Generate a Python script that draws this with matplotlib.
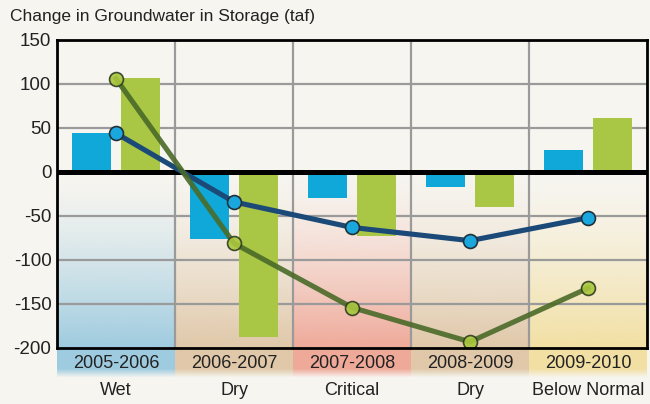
import numpy as np
import matplotlib.pyplot as plt
from matplotlib.colors import to_rgb

# water years and their classification
years = ['2005-2006', '2006-2007', '2007-2008', '2008-2009', '2009-2010']
year_types = ['Wet', 'Dry', 'Critical', 'Dry', 'Below Normal']

# change in storage per year (taf)
blue_bars = [44, -76, -30, -17, 25]
green_bars = [107, -187, -73, -40, 61]

# cumulative change in storage (taf)
blue_line = [44, -34, -63, -78, -52]
green_line = [106, -81, -154, -193, -132]

type_colors = {
    'Wet': '#8ec4dd',
    'Dry': '#dcc09c',
    'Critical': '#ee9c8a',
    'Below Normal': '#f1dc95',
}

BG = '#f7f5f0'

plt.rcParams['font.family'] = ['Liberation Sans', 'DejaVu Sans']

fig = plt.figure(figsize=(6.5, 4.04), dpi=100, facecolor=BG)
ax = fig.add_axes([57 / 650, 1 - 348 / 404, 590 / 650, 308 / 404])
ax.set_facecolor(BG)

x = np.arange(len(years))
ymin, ymax = -200, 150

# shaded bands behind each year, fading towards zero and running into the label strip
band_low = -234
n = 256
ys = np.linspace(0, band_low, n)
alpha = np.clip((0 - ys) / 200, 0, 1) ** 1.4 * 0.85
fade = ys < -224
alpha[fade] *= np.clip((ys[fade] - band_low) / 10, 0, 1)
for i, t in enumerate(year_types):
    rgba = np.zeros((n, 1, 4))
    rgba[:, 0, :3] = to_rgb(type_colors[t])
    rgba[:, 0, 3] = alpha
    ax.imshow(rgba, extent=(i - 0.5, i + 0.5, band_low, 0), origin='upper',
              aspect='auto', zorder=0, clip_on=False, interpolation='bilinear')

# grid
for gx in np.arange(0.5, len(years) - 0.5):
    ax.axvline(gx, color='#9a9a9a', lw=1.6, zorder=1)
for gy in range(-150, 150, 50):
    ax.axhline(gy, color='#9a9a9a', lw=1.6, zorder=1)

off, w = 0.21, 0.33
ax.bar(x - off, blue_bars, width=w, color='#0fa8d9', zorder=2)
ax.bar(x + off, green_bars, width=w, color='#a9c645', zorder=2)

ax.axhline(0, color='black', lw=3.6, zorder=3)

ax.plot(x, blue_line, color='#1b4a78', lw=3.7, zorder=4,
        marker='o', ms=10, mfc='#1aa7de', mec='#22303a', mew=1.2)
ax.plot(x, green_line, color='#4a6a28', lw=3.7, alpha=0.9, zorder=5,
        marker='o', ms=10, mfc='#a8c63c', mec='#2f3a20', mew=1.2)

ax.set_xlim(-0.5, len(years) - 0.5)
ax.set_ylim(ymin, ymax)
ax.set_yticks(range(-200, 151, 50))
ax.set_yticklabels([str(v) for v in range(-200, 151, 50)], fontsize=13.5, color='#222222')
ax.set_xticks(x)
ax.set_xticklabels([f'{y}\n{t}' for y, t in zip(years, year_types)],
                   fontsize=13, color='#222222', linespacing=1.75)
ax.tick_params(length=0, pad=4)
ax.tick_params(axis='x', pad=5)
for s in ax.spines.values():
    s.set_color('black')
    s.set_linewidth(2)
    s.set_zorder(6)

fig.text(10 / 650, 1 - 16 / 404, 'Change in Groundwater in Storage (taf)',
         fontsize=12.5, color='#222222', va='center', ha='left')

fig.savefig('out.png', dpi=100, facecolor=BG)
